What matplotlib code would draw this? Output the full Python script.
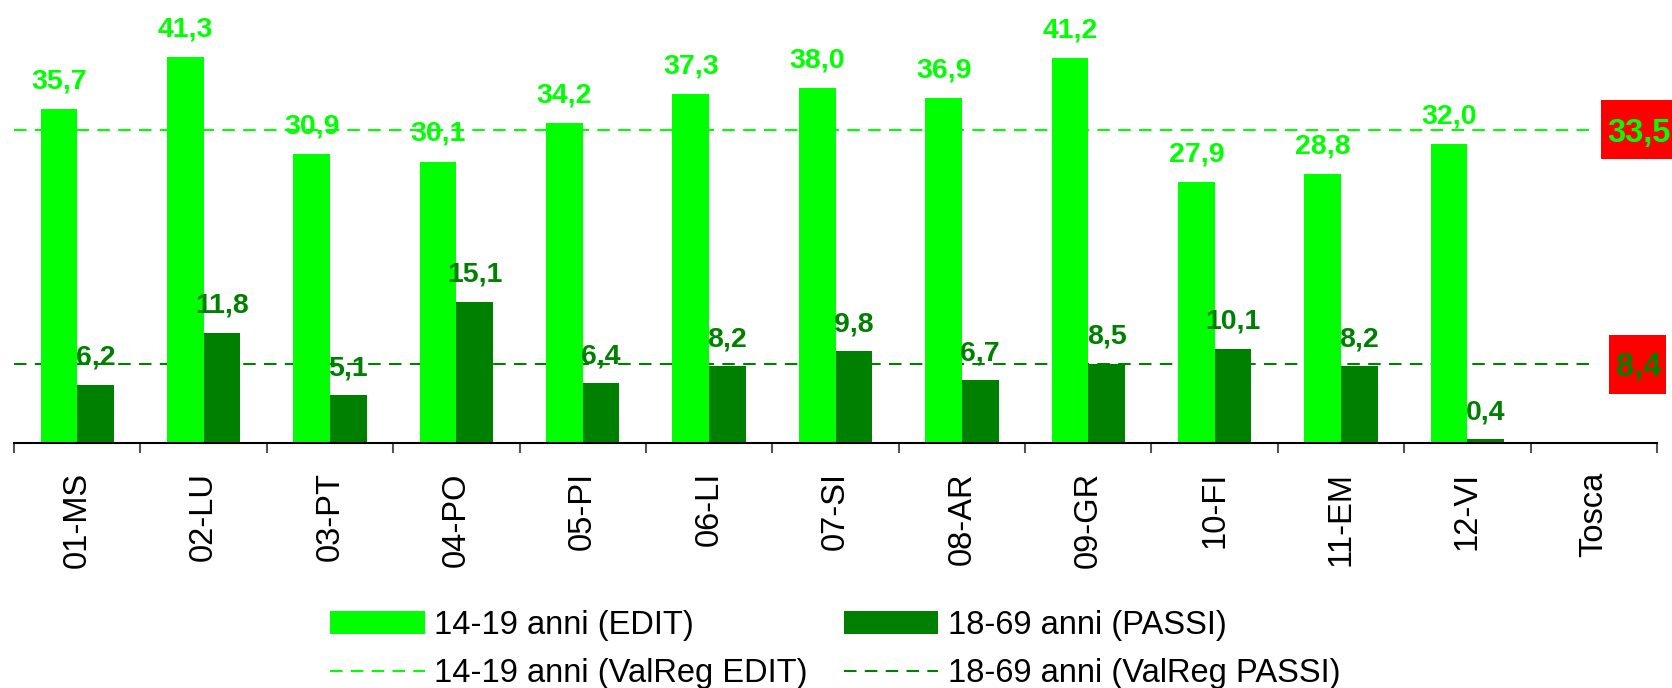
import numpy as np
import matplotlib
matplotlib.use("Agg")
import matplotlib.pyplot as plt
from matplotlib.patches import Patch, Rectangle
from matplotlib.lines import Line2D

plt.rcParams['font.family'] = ['Liberation Sans', 'DejaVu Sans']

# dati per ASL
asl = ['01-MS', '02-LU', '03-PT', '04-PO', '05-PI', '06-LI', '07-SI',
       '08-AR', '09-GR', '10-FI', '11-EM', '12-VI', 'Tosca']
edit_14_19 = [35.7, 41.3, 30.9, 30.1, 34.2, 37.3, 38.0, 36.9, 41.2, 27.9, 28.8, 32.0]
passi_18_69 = [6.2, 11.8, 5.1, 15.1, 6.4, 8.2, 9.8, 6.7, 8.5, 10.1, 8.2, 0.4]
valreg_edit = 33.5
valreg_passi = 8.4

light = '#00ff00'
dark = '#008000'

W, H = 1672, 688
fig = plt.figure(figsize=(W / 100, H / 100), dpi=100)
ax = fig.add_axes([14 / W, 245 / H, (1657 - 14) / W, (443) / H])

x = np.arange(len(edit_14_19))
bw = 0.29
ax.bar(x - bw / 2, edit_14_19, bw, color=light, zorder=2)
ax.bar(x + bw / 2, passi_18_69, bw, color=dark, zorder=2)

# valori regionali
xl = [-0.5, 12]
ax.plot(xl, [valreg_edit] * 2, color=light, lw=1.5, dashes=[6, 4], zorder=1)
ax.plot(xl, [valreg_passi] * 2, color=dark, lw=1.5, dashes=[6, 4], zorder=1)

def fmt(v):
    return f"{v:.1f}".replace('.', ',')

for xi, v in zip(x, edit_14_19):
    ax.annotate(fmt(v), (xi - bw / 2, v), xytext=(0, 15), textcoords='offset points',
                ha='center', va='baseline', fontsize=20.5, fontweight='bold',
                color=light, annotation_clip=False)
for xi, v in zip(x, passi_18_69):
    ax.annotate(fmt(v), (xi + bw / 2, v), xytext=(0, 14.5), textcoords='offset points',
                ha='center', va='baseline', fontsize=20.5, fontweight='bold',
                color=dark, annotation_clip=False)

# etichette rosse con il valore regionale
for v, c, x0, x1 in [(valreg_edit, light, 12.055, 12.7), (valreg_passi, dark, 12.12, 12.57)]:
    ax.add_patch(Rectangle((x0, v - 3.15), x1 - x0, 6.3, facecolor='red',
                           edgecolor='none', clip_on=False, zorder=3))
    ax.text(12.355, v, fmt(v), ha='center', va='center_baseline', fontsize=23.5,
            fontweight='bold', color=c, clip_on=False, zorder=4)

ax.set_xlim(-0.5, 12.5)
ax.set_ylim(0, 47.4)
for s in ['top', 'right', 'left']:
    ax.spines[s].set_visible(False)
ax.spines['bottom'].set_linewidth(1.5)
ax.set_yticks([])

ax.set_xticks(np.arange(len(asl)))
ax.set_xticklabels(asl, rotation=90, fontsize=23.5)
ax.tick_params(axis='x', which='major', length=0, pad=21)
ax.set_xticks(np.arange(len(asl) + 1) - 0.5, minor=True)
ax.tick_params(axis='x', which='minor', length=7, width=1.5, color='#555555')

handles = [
    Patch(facecolor=light, edgecolor='none'),
    Line2D([], [], color=light, lw=1.5, dashes=[6, 4]),
    Patch(facecolor=dark, edgecolor='none'),
    Line2D([], [], color=dark, lw=1.5, dashes=[6, 4]),
]
labels = ['14-19 anni (EDIT)', '14-19 anni (ValReg EDIT)',
          '18-69 anni (PASSI)', '18-69 anni (ValReg PASSI)']
fig.legend(handles, labels, ncol=2, frameon=False, fontsize=23.5,
           loc='upper left', bbox_to_anchor=(330 / W, 1 - 610 / H),
           borderpad=0, borderaxespad=0, handlelength=2.9, handleheight=0.7,
           handletextpad=0.3, columnspacing=1.1, labelspacing=0.52)

fig.savefig('out.png', dpi=100)
